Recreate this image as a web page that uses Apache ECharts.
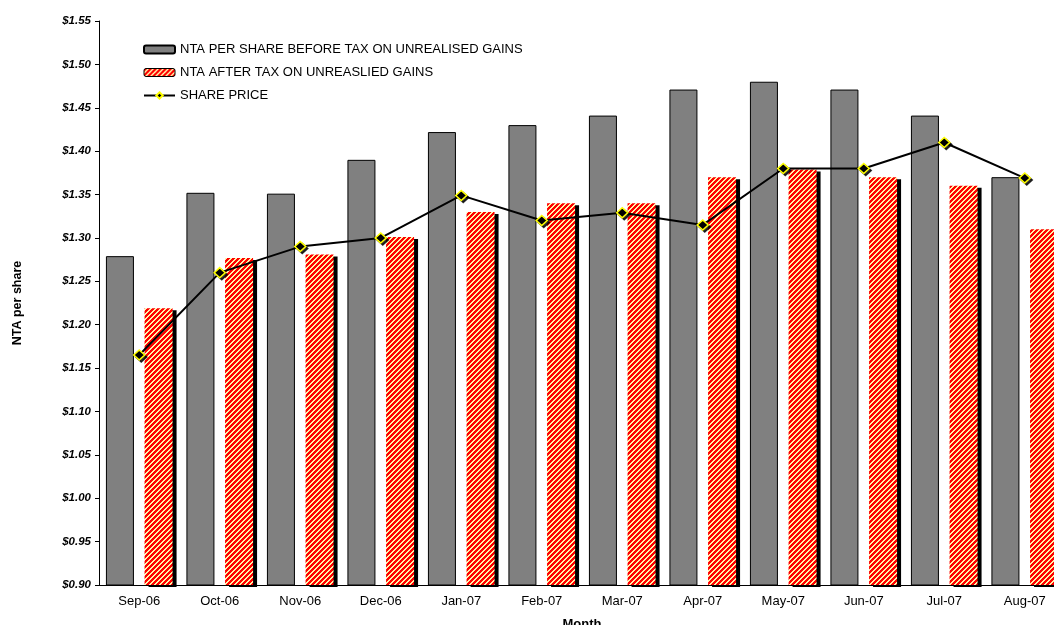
<!DOCTYPE html>
<html>
<head>
<meta charset="utf-8">
<script src="https://cdn.jsdelivr.net/npm/echarts@6/dist/echarts.min.js"></script>
<style>
  html, body { margin: 0; padding: 0; background: #fff; }
  #main { width: 1054px; height: 625px; }
</style>
</head>
<body>
<div id="main"></div>
<script>
var months = ['Sep-06', 'Oct-06', 'Nov-06', 'Dec-06', 'Jan-07', 'Feb-07', 'Mar-07', 'Apr-07', 'May-07', 'Jun-07', 'Jul-07', 'Aug-07'];
var ntaBefore = [1.279, 1.352, 1.351, 1.390, 1.422, 1.430, 1.441, 1.471, 1.480, 1.471, 1.441, 1.370];
var ntaAfter = [1.219, 1.277, 1.281, 1.301, 1.330, 1.340, 1.340, 1.370, 1.379, 1.370, 1.360, 1.310];
var sharePrice = [1.165, 1.260, 1.290, 1.300, 1.349, 1.320, 1.329, 1.315, 1.380, 1.380, 1.410, 1.369];

var FONT = 'Arial, "Liberation Sans", sans-serif';

// red / cream diagonal stripes ("/"), like the excel pattern fill
function stripes() {
    var s = 5;
    var c = document.createElement('canvas');
    c.width = s; c.height = s;
    var g = c.getContext('2d');
    for (var y = 0; y < s; y++) {
        for (var x = 0; x < s; x++) {
            g.fillStyle = ((x + y) % s) < 3 ? '#ff0000' : '#fff2a8';
            g.fillRect(x, y, 1, 1);
        }
    }
    return c;
}
var redFill = { image: stripes(), repeat: 'repeat' };

var chart = echarts.init(document.getElementById('main'), null, { renderer: 'canvas' });

chart.setOption({
    backgroundColor: '#fff',
    animation: false,
    textStyle: { fontFamily: FONT },
    grid: { left: 99, right: -11, top: 21, bottom: 40, outerBoundsMode: 'none', containLabel: false },
    legend: {
        orient: 'vertical',
        left: 143,
        top: 43,
        padding: 0,
        itemWidth: 31,
        itemHeight: 8,
        itemGap: 10,
        textStyle: { fontSize: 13, color: '#000', fontFamily: FONT },
        data: [
            { name: 'NTA PER SHARE BEFORE TAX ON UNREALISED GAINS' },
            { name: 'NTA AFTER TAX ON UNREASLIED GAINS', itemStyle: { color: redFill, borderColor: '#000', borderWidth: 1 } },
            { name: 'SHARE PRICE' }
        ]
    },
    xAxis: {
        type: 'category',
        data: months,
        name: 'Month',
        nameLocation: 'middle',
        nameGap: 33,
        nameTextStyle: { fontSize: 13, fontWeight: 'bold', color: '#000' },
        axisLine: { lineStyle: { color: '#000', width: 1 } },
        axisTick: { length: 4, lineStyle: { color: '#000' } },
        axisLabel: { fontSize: 13, color: '#000', margin: 10 }
    },
    yAxis: {
        type: 'value',
        min: 0.9,
        max: 1.55,
        interval: 0.05,
        name: 'NTA per share',
        nameLocation: 'middle',
        nameGap: 75,
        nameTextStyle: { fontSize: 12.5, fontWeight: 'bold', color: '#000' },
        axisLine: { show: true, lineStyle: { color: '#000', width: 1 } },
        axisTick: { show: true, length: 4, lineStyle: { color: '#000' } },
        splitLine: { show: false },
        axisLabel: {
            fontSize: 11.5,
            fontWeight: 'bold',
            fontStyle: 'italic',
            color: '#000',
            margin: 8,
            formatter: function (v) { return '$' + v.toFixed(2); }
        }
    },
    series: [
        {
            name: 'NTA PER SHARE BEFORE TAX ON UNREALISED GAINS',
            type: 'bar',
            data: ntaBefore,
            barWidth: 28,
            barGap: '38%',
            itemStyle: { color: '#808080', borderColor: '#000', borderWidth: 1 }
        },
        {
            name: 'NTA AFTER TAX ON UNREASLIED GAINS',
            type: 'bar',
            data: ntaAfter,
            barWidth: 28,
            itemStyle: {
                color: redFill,
                borderWidth: 0,
                shadowColor: '#000',
                shadowBlur: 0,
                shadowOffsetX: 4,
                shadowOffsetY: 2
            }
        },
        {
            name: 'SHARE PRICE',
            type: 'line',
            data: sharePrice,
            symbol: 'diamond',
            symbolSize: [11, 10],
            lineStyle: { color: '#000', width: 2 },
            itemStyle: {
                color: '#000',
                borderColor: '#ffff00',
                borderWidth: 1.5,
                shadowColor: 'rgba(0,0,0,0.8)',
                shadowOffsetX: 2,
                shadowOffsetY: 2
            },
            z: 5
        }
    ]
});
</script>
</body>
</html>
